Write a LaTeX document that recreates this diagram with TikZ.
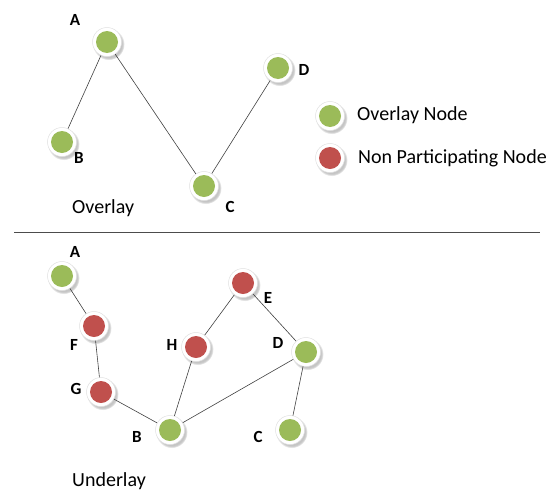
\documentclass[tikz,border=0pt]{standalone}
\usepackage{fontspec}
\setmainfont{Carlito}
\usetikzlibrary{shadows}
\definecolor{ovgreen}{HTML}{9BBB59}
\definecolor{npred}{HTML}{C0504D}
\tikzset{
  x=1pt,y=-1pt,
  base/.style={circle,minimum size=29pt,inner sep=0pt,draw=black!12,line width=0.5pt,fill=white,
    circular drop shadow={shadow xshift=1.5pt,shadow yshift=-2pt,opacity=0.5,fill=black!45}},
  ov/.style={base,path picture={\fill[ovgreen] (path picture bounding box.center) circle (11pt);}},
  np/.style={base,path picture={\fill[npred] (path picture bounding box.center) circle (11pt);}},
  lab/.style={font=\fontsize{17}{20}\selectfont\bfseries,inner sep=0pt},
  txt/.style={font=\fontsize{20}{24}\selectfont,inner sep=0pt,anchor=west},
  edge/.style={draw=black!75,line width=0.6pt}
}
\begin{document}
\begin{tikzpicture}
\useasboundingbox (0,0) rectangle (548,490);
% Overlay
\node[ov] (oA) at (107,42) {};
\node[ov] (oB) at (62,142) {};
\node[ov] (oC) at (204,186) {};
\node[ov] (oD) at (278,68) {};
\draw[edge] (oA) -- (oB);
\draw[edge] (oA) -- (oC);
\draw[edge] (oC) -- (oD);
\node[lab] (loA) at (75,20) {A};
\node[lab] (loB) at (79,158) {B};
\node[lab] (loC) at (230,207) {C};
\node[lab] (loD) at (304,70) {D};
\node[txt] (tov) at (72,208) {Overlay};
% legend
\node[ov] (lg1) at (330,116) {};
\node[np] (lg2) at (330,158) {};
\node[txt] (lt1) at (357,115) {Overlay Node};
\node[txt] (lt2) at (358,158) {Non Participating Node};
% separator
\coordinate (s1) at (14,232);
\coordinate (s2) at (540,232);
\draw[draw=black!70,line width=0.6pt] (s1) -- (s2);
% Underlay
\node[ov] (uA) at (62,276) {};
\node[np] (uF) at (94,326) {};
\node[np] (uG) at (101,392) {};
\node[ov] (uB) at (170,430) {};
\node[np] (uH) at (196,347) {};
\node[np] (uE) at (243,283) {};
\node[ov] (uD) at (306,352) {};
\node[ov] (uC) at (290,430) {};
\draw[edge] (uA) -- (uF);
\draw[edge] (uF) -- (uG);
\draw[edge] (uG) -- (uB);
\draw[edge] (uB) -- (uH);
\draw[edge] (uH) -- (uE);
\draw[edge] (uE) -- (uD);
\draw[edge] (uD) -- (uB);
\draw[edge] (uD) -- (uC);
\node[lab] (luA) at (75,252) {A};
\node[lab] (luF) at (74,345) {F};
\node[lab] (luG) at (76,389) {G};
\node[lab] (luB) at (137,437) {B};
\node[lab] (luH) at (172,345) {H};
\node[lab] (luE) at (268,298) {E};
\node[lab] (luD) at (278,343) {D};
\node[lab] (luC) at (258,437) {C};
\node[txt] (tun) at (72,481) {Underlay};
\end{tikzpicture}
\end{document}
